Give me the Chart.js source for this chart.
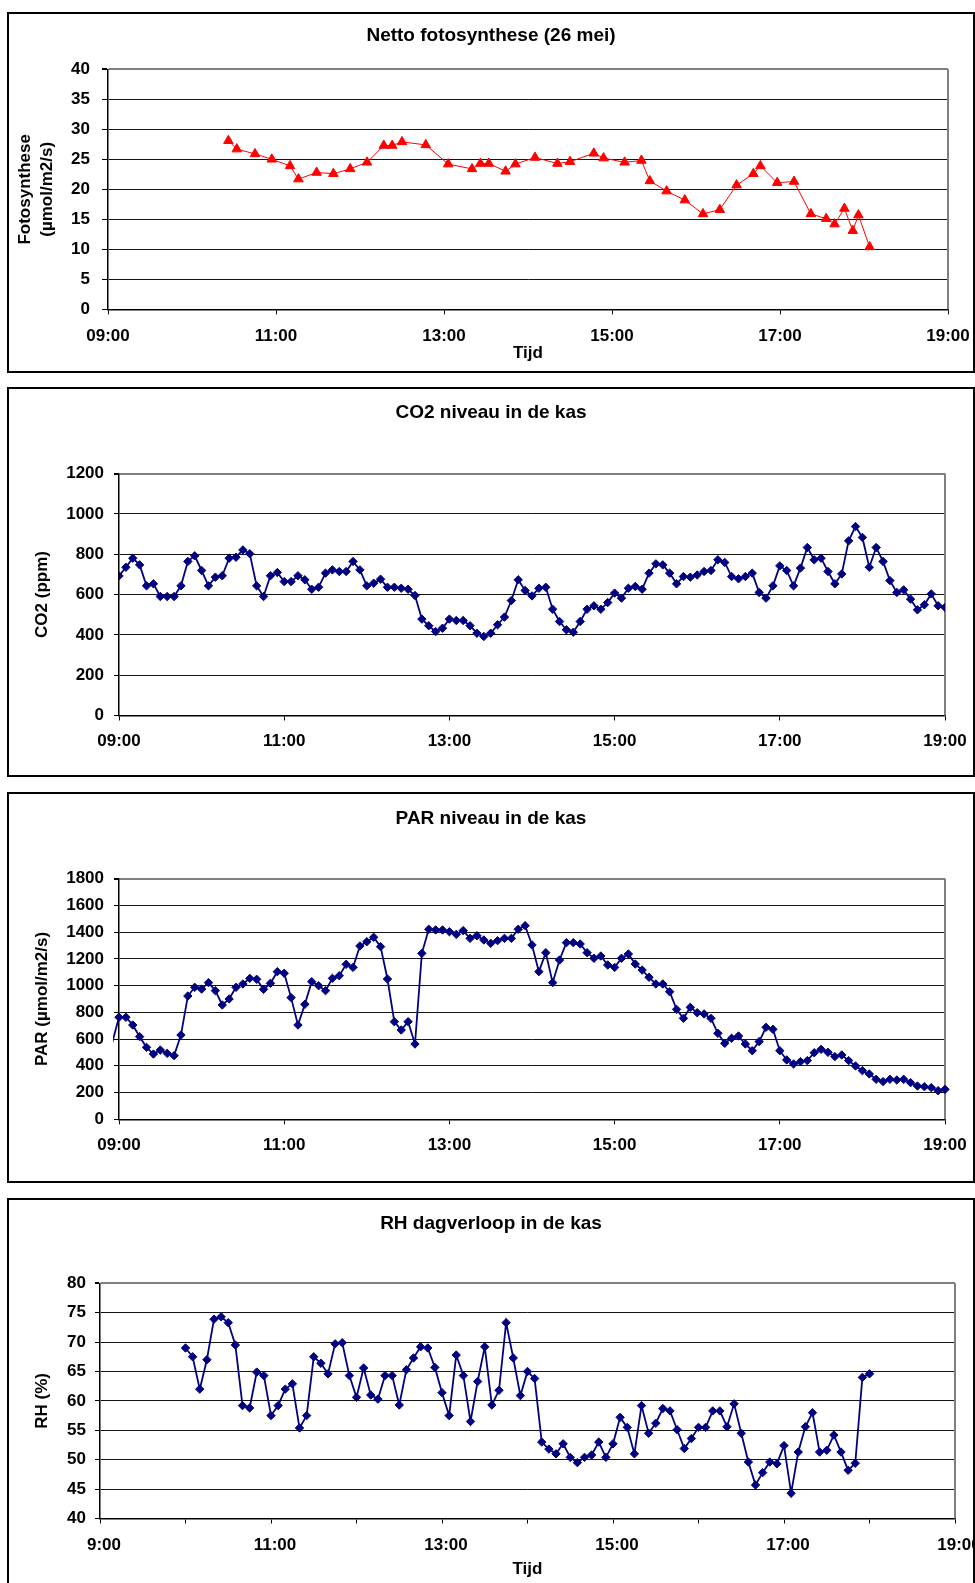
<!DOCTYPE html>
<html>
<head>
<meta charset="utf-8">
<title>Kasklimaat en fotosynthese</title>
<script src="https://cdn.jsdelivr.net/npm/chart.js@4.4.1/dist/chart.umd.min.js"></script>
<style>
  html, body { margin: 0; padding: 0; background: #fff; overflow: hidden; width: 975px; height: 1583px; }
  canvas { position: absolute; left: 7px; }
  .frame { position: absolute; left: 7px; width: 968px; box-sizing: border-box; border: 2px solid #000; pointer-events: none; }
</style>
</head>
<body>
<canvas id="cFoto" width="968" height="361" style="top:12px"></canvas>
<div class="frame" style="top:12px;height:361px"></div>
<canvas id="cCo2" width="968" height="390" style="top:387px"></canvas>
<div class="frame" style="top:387px;height:390px"></div>
<canvas id="cPar" width="968" height="391" style="top:792px"></canvas>
<div class="frame" style="top:792px;height:391px"></div>
<canvas id="cRh" width="968" height="385" style="top:1198px"></canvas>
<div class="frame" style="top:1198px;height:400px"></div>

<script>
// ---- Netto fotosynthese (26 mei): measurement times and values (µmol/m2/s)
const fotoTimes = ['10:26','10:32','10:45','10:57','11:10','11:16','11:29','11:41','11:53','12:05',
  '12:17','12:23','12:30','12:47','13:03','13:20','13:26','13:32','13:44','13:51',
  '14:05','14:21','14:30','14:47','14:54','15:09','15:21','15:27','15:39','15:52',
  '16:05','16:17','16:29','16:41','16:46','16:58','17:10','17:22','17:33','17:39',
  '17:46','17:52','17:56','18:04'];
const fotoValues = [28.1,26.7,25.9,25.0,23.9,21.7,22.8,22.6,23.4,24.5,
  27.3,27.3,27.9,27.4,24.2,23.4,24.3,24.3,23.0,24.2,
  25.3,24.3,24.6,26.0,25.2,24.5,24.8,21.4,19.7,18.2,
  15.9,16.6,20.7,22.6,23.9,21.1,21.3,15.9,15.1,14.2,
  16.8,13.1,15.7,10.4];

// ---- CO2 level in the greenhouse (ppm), logged every 5 minutes from 09:00
const co2Start = '09:00';
const co2Values = [692,735,780,747,643,653,590,590,590,643,
  764,792,719,643,686,693,780,785,821,802,
  643,590,693,709,664,664,693,673,626,636,
  706,722,714,714,764,722,643,656,676,636,
  636,631,626,595,478,445,416,433,478,471,
  471,445,408,392,408,450,488,570,673,620,
  593,631,636,527,466,425,413,466,527,544,
  527,560,607,582,631,640,626,706,752,747,
  706,653,689,686,697,714,719,772,759,689,
  678,689,706,610,582,643,742,719,643,731,
  833,772,780,714,653,702,866,937,883,735,
  833,764,669,610,623,577,524,549,603,544,536];

// ---- PAR level in the greenhouse (µmol/m2/s), logged every 5 minutes from 08:55
const parStart = '08:55';
const parValues = [570,
  763,763,705,618,538,488,518,493,476,630,
  922,987,974,1022,962,855,900,987,1012,1054,
  1047,972,1017,1104,1092,910,705,860,1029,999,
  962,1054,1074,1159,1136,1296,1328,1361,1291,1049,
  730,668,730,563,1241,1421,1416,1416,1403,1383,
  1411,1353,1373,1341,1316,1336,1353,1353,1421,1448,
  1304,1104,1246,1022,1191,1321,1321,1311,1246,1204,
  1221,1154,1136,1204,1236,1161,1116,1062,1012,1012,
  954,822,755,837,797,788,755,643,568,606,
  623,563,513,581,688,673,513,444,414,431,
  439,498,523,501,469,481,439,399,364,339,
  299,282,299,294,299,274,249,244,237,214,224];

// ---- Relative humidity in the greenhouse (%), logged every 5 minutes from 10:00
const rhStart = '10:00';
const rhValues = [69.0,67.5,62.0,67.0,73.9,74.3,73.3,69.5,59.2,58.8,
  64.9,64.3,57.5,59.2,62.0,62.9,55.4,57.5,67.5,66.4,
  64.6,69.7,69.9,64.3,60.6,65.6,61.0,60.3,64.3,64.3,
  59.3,65.3,67.3,69.2,69.0,65.7,61.4,57.5,67.8,64.3,
  56.5,63.3,69.2,59.3,61.8,73.3,67.3,60.9,65.0,63.8,
  53.0,51.8,51.0,52.7,50.4,49.5,50.4,50.8,53.0,50.4,
  52.7,57.2,55.5,51.0,59.2,54.5,56.2,58.7,58.3,55.1,
  51.9,53.6,55.5,55.5,58.3,58.3,55.6,59.5,54.5,49.6,
  45.7,47.8,49.6,49.3,52.4,44.3,51.3,55.6,58.0,51.3,
  51.6,54.2,51.3,48.2,49.4,64.0,64.6];

const sampleMinutes = 5;

// Time axis: hours of the day
const timeMin = 9, timeMax = 19;

const FONT = "'Liberation Sans', Arial, Helvetica, sans-serif";
Chart.defaults.font.family = FONT;
Chart.defaults.font.size = 17;
Chart.defaults.font.weight = 'bold';
Chart.defaults.color = '#000';
Chart.defaults.animation = false;

function hoursOf(t) {
  const [h, m] = t.split(':').map(Number);
  return h + m / 60;
}
function timedPoints(times, values) {
  return values.map((v, i) => ({ x: hoursOf(times[i]), y: v }));
}
function loggedPoints(start, values) {
  const t0 = hoursOf(start);
  return values.map((v, i) => ({ x: t0 + i * sampleMinutes / 60, y: v }));
}

// Grey frame on the right side of the plot area
const plotFrame = {
  id: 'plotFrame',
  beforeDatasetsDraw(chart) {
    const { ctx, chartArea: a } = chart;
    ctx.save();
    ctx.strokeStyle = '#808080';
    ctx.lineWidth = 2;
    ctx.beginPath();
    ctx.moveTo(a.right, a.top);
    ctx.lineTo(a.right, a.bottom);
    ctx.stroke();
    ctx.restore();
  }
};

function makeChart(canvasId, g, dataset) {
  return new Chart(document.getElementById(canvasId), {
    type: 'line',
    data: { datasets: [dataset] },
    plugins: [plotFrame],
    options: {
      responsive: false,
      animation: false,
      events: [],
      layout: { padding: 0 },
      plugins: {
        legend: { display: false },
        tooltip: { enabled: false },
        title: {
          display: true, text: g.title, color: '#000',
          font: { size: 19, weight: 'bold', lineHeight: 1.2 },
          padding: { top: g.titleTop, bottom: g.titleBottom }
        }
      },
      scales: {
        x: {
          type: 'linear', min: timeMin, max: timeMax,
          afterFit(s) { s.height = g.xHeight; s.paddingLeft = 0; s.paddingRight = 0; },
          ticks: {
            stepSize: g.xStep, autoSkip: false, maxRotation: 0, minRotation: 0,
            padding: g.xTickPad, labelOffset: g.xLabelOffset || 0,
            callback: g.xLabel
          },
          grid: { drawOnChartArea: false, drawTicks: true, tickLength: 5, tickColor: '#000', tickWidth: 1 },
          border: { display: true, color: '#000', width: 1.5 },
          title: {
            display: !!g.xTitle, text: g.xTitle || '',
            font: { size: 17, weight: 'bold', lineHeight: 1.2 },
            padding: { top: 0, bottom: g.xTitleBottom || 0 }
          }
        },
        y: {
          type: 'linear', min: g.yMin, max: g.yMax,
          afterFit(s) { s.width = g.yWidth; s.paddingTop = 0; s.paddingBottom = 0; },
          ticks: {
            stepSize: g.yStep, autoSkip: false, padding: g.yTickPad,
            callback: v => String(v)
          },
          grid: {
            drawTicks: true, tickLength: g.yTickLen, tickColor: '#000',
            color: c => (c.tick && c.tick.value === g.yMax) ? '#808080' : '#141414',
            lineWidth: c => (c.tick && c.tick.value === g.yMax) ? 2 : 1
          },
          border: { display: true, color: '#000', width: 1.5 },
          title: {
            display: true, text: g.yTitle,
            font: { size: 17, weight: 'bold', lineHeight: 1.3 },
            padding: { top: g.yTitlePad, bottom: 0 }
          }
        },
        // empty margin to the right of the plot area
        yMargin: {
          type: 'linear', position: 'right', display: true,
          afterFit(s) { s.width = g.padRight; s.paddingTop = 0; s.paddingBottom = 0; },
          ticks: { display: false },
          grid: { display: false, drawTicks: false },
          border: { display: false }
        }
      }
    }
  });
}

const padHour = v => (v < 10 ? '0' : '') + Math.round(v) + ':00';
const everyOtherHour = v => ((Math.round(v) - timeMin) % 2 === 0) ? Math.round(v) + ':00' : '';

const navy = '#000080';
function navySeries(points, extra) {
  return Object.assign({
    data: points,
    borderColor: navy, backgroundColor: navy,
    borderWidth: 1.8,
    pointStyle: 'rectRot', pointRadius: 4.2, pointBorderWidth: 1,
    pointBackgroundColor: navy, pointBorderColor: navy,
    tension: 0
  }, extra || {});
}

// Netto fotosynthese
makeChart('cFoto', {
  title: 'Netto fotosynthese (26 mei)',
  titleTop: 12, titleBottom: 22.5,
  padRight: 27, yWidth: 101, xHeight: 63.7,
  xStep: 2, xLabel: padHour, xTickPad: 11.5, xTitle: 'Tijd', xTitleBottom: 9.8,
  yMin: 0, yMax: 40, yStep: 5, yTickLen: 6, yTickPad: 12,
  yTitle: ['Fotosynthese', '(µmol/m2/s)'], yTitlePad: 7
}, {
  data: timedPoints(fotoTimes, fotoValues),
  borderColor: '#ff0000', backgroundColor: '#ff0000',
  borderWidth: 1,
  pointStyle: 'triangle', pointRadius: 5.5, pointBorderWidth: 1,
  pointBackgroundColor: '#ff0000', pointBorderColor: '#ff0000',
  tension: 0
});

// CO2 niveau
makeChart('cCo2', {
  title: 'CO2 niveau in de kas',
  titleTop: 14.6, titleBottom: 49.1,
  padRight: 30, yWidth: 112, xHeight: 61.5,
  xStep: 2, xLabel: padHour, xTickPad: 10.3,
  yMin: 0, yMax: 1200, yStep: 200, yTickLen: 5, yTickPad: 10,
  yTitle: 'CO2 (ppm)', yTitlePad: 24.4
}, navySeries(loggedPoints(co2Start, co2Values)));

// PAR niveau
makeChart('cPar', {
  title: 'PAR niveau in de kas',
  titleTop: 15.1, titleBottom: 48.7,
  padRight: 30, yWidth: 112, xHeight: 63.7,
  xStep: 2, xLabel: padHour, xTickPad: 11.1,
  yMin: 0, yMax: 1800, yStep: 200, yTickLen: 5, yTickPad: 10,
  yTitle: 'PAR (µmol/m2/s)', yTitlePad: 24.4
}, navySeries(loggedPoints(parStart, parValues), {
  clip: { left: 6, right: 8, top: 8, bottom: 8 },
  pointRadius: c => (c.raw && c.raw.x < timeMin) ? 0 : 4.2
}));

// RH dagverloop
makeChart('cRh', {
  title: 'RH dagverloop in de kas',
  titleTop: 13.9, titleBottom: 48.6,
  padRight: 20, yWidth: 93, xHeight: 64.5,
  xStep: 1, xLabel: everyOtherHour, xTickPad: 11.3, xLabelOffset: 4,
  xTitle: 'Tijd', xTitleBottom: 3.8,
  yMin: 40, yMax: 80, yStep: 5, yTickLen: 5, yTickPad: 9,
  yTitle: 'RH (%)', yTitlePad: 24.4
}, navySeries(loggedPoints(rhStart, rhValues)));
</script>
</body>
</html>
